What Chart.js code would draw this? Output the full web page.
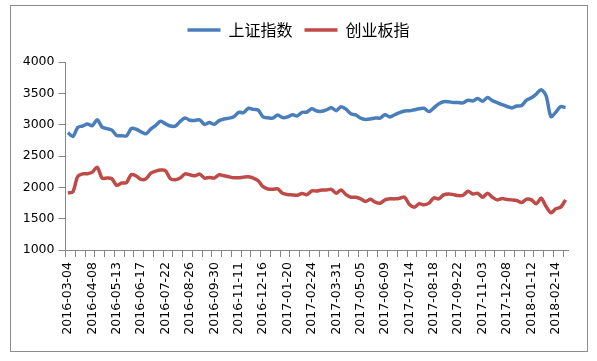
<!DOCTYPE html>
<html>
<head>
<meta charset="utf-8">
<script src="https://cdn.jsdelivr.net/npm/chart.js@4.4.0/dist/chart.umd.min.js"></script>
<style>
  html, body { margin: 0; padding: 0; background: #fff; }
  #wrap { position: relative; width: 597px; height: 361px; }
  #frame { position: absolute; left: 10px; top: 5px; width: 576px; height: 345px; border: 1px solid #8c8c8c; pointer-events: none; }
  canvas { position: absolute; left: 0; top: 0; }
</style>
</head>
<body>
<div id="wrap">
  <canvas id="chart" width="597" height="361"></canvas>
  <div id="frame"></div>
</div>
<script>
// Weekly closes, 2016-03-04 .. 2018-03-02
const dates = [
  '2016-03-04','2016-03-11','2016-03-18','2016-03-25','2016-04-01','2016-04-08','2016-04-15','2016-04-22','2016-04-29','2016-05-06',
  '2016-05-13','2016-05-20','2016-05-27','2016-06-03','2016-06-08','2016-06-17','2016-06-24','2016-07-01','2016-07-08','2016-07-15',
  '2016-07-22','2016-07-29','2016-08-05','2016-08-12','2016-08-19','2016-08-26','2016-09-02','2016-09-09','2016-09-14','2016-09-23',
  '2016-09-30','2016-10-14','2016-10-21','2016-10-28','2016-11-04','2016-11-11','2016-11-18','2016-11-25','2016-12-02','2016-12-09',
  '2016-12-16','2016-12-23','2016-12-30','2017-01-06','2017-01-13','2017-01-20','2017-01-26','2017-02-03','2017-02-10','2017-02-17',
  '2017-02-24','2017-03-03','2017-03-10','2017-03-17','2017-03-24','2017-03-31','2017-04-07','2017-04-14','2017-04-21','2017-04-28',
  '2017-05-05','2017-05-12','2017-05-19','2017-05-26','2017-06-02','2017-06-09','2017-06-16','2017-06-23','2017-06-30','2017-07-07',
  '2017-07-14','2017-07-21','2017-07-28','2017-08-04','2017-08-11','2017-08-18','2017-08-25','2017-09-01','2017-09-08','2017-09-15',
  '2017-09-22','2017-09-29','2017-10-13','2017-10-20','2017-10-27','2017-11-03','2017-11-10','2017-11-17','2017-11-24','2017-12-01',
  '2017-12-08','2017-12-15','2017-12-22','2017-12-29','2018-01-05','2018-01-12','2018-01-19','2018-01-26','2018-02-02','2018-02-09',
  '2018-02-14','2018-02-23','2018-03-02'
];

const shIndex = [
  2874, 2811, 2955, 2979, 3009, 2985, 3078, 2960, 2938, 2913,
  2828, 2825, 2822, 2938, 2927, 2885, 2854, 2932, 2989, 3054,
  3013, 2979, 2977, 3050, 3108, 3070, 3068, 3078, 3003, 3033,
  3005, 3064, 3091, 3105, 3125, 3197, 3193, 3262, 3244, 3233,
  3123, 3111, 3104, 3154, 3113, 3123, 3159, 3140, 3197, 3202,
  3253, 3218, 3213, 3237, 3269, 3223, 3287, 3247, 3173, 3155,
  3104, 3083, 3091, 3108, 3106, 3158, 3123, 3158, 3192, 3218,
  3222, 3238, 3254, 3262, 3209, 3269, 3332, 3367, 3365, 3354,
  3353, 3349, 3391, 3379, 3417, 3372, 3433, 3383, 3353, 3318,
  3290, 3267, 3297, 3307, 3392, 3429, 3488, 3558, 3462, 3129,
  3200, 3289, 3273
];

const cybIndex = [
  1911, 1926, 2173, 2215, 2216, 2242, 2321, 2148, 2148, 2137,
  2032, 2069, 2075, 2205, 2180, 2127, 2137, 2226, 2258, 2275,
  2265, 2137, 2122, 2148, 2215, 2200, 2184, 2211, 2148, 2158,
  2148, 2200, 2184, 2168, 2153, 2153, 2163, 2168, 2148, 2105,
  2011, 1974, 1968, 1974, 1905, 1884, 1879, 1874, 1900, 1884,
  1945, 1940, 1958, 1958, 1968, 1905, 1958, 1884, 1842, 1842,
  1816, 1774, 1810, 1763, 1747, 1800, 1816, 1816, 1826, 1842,
  1726, 1684, 1737, 1721, 1747, 1832, 1816, 1879, 1895, 1884,
  1868, 1874, 1937, 1895, 1905, 1842, 1905, 1842, 1800, 1821,
  1805, 1800, 1789, 1758, 1810, 1800, 1737, 1826, 1695, 1595,
  1658, 1684, 1800
];

const seriesNames = ['上证指数', '创业板指'];
const yTicks = [1000, 1500, 2000, 2500, 3000, 3500, 4000];

const axisGray = '#868686';
const tickFont = { family: "'DejaVu Sans', sans-serif", size: 12.5 };

new Chart(document.getElementById('chart'), {
  type: 'line',
  data: {
    labels: dates,
    datasets: [
      {
        label: seriesNames[0],
        data: shIndex,
        borderColor: '#4A7EBB',
        backgroundColor: '#4A7EBB',
        borderWidth: 3.5,
        pointRadius: 0,
        tension: 0.3,
        yAxisID: 'y'
      },
      {
        label: seriesNames[1],
        data: cybIndex,
        borderColor: '#BE4B48',
        backgroundColor: '#BE4B48',
        borderWidth: 3.5,
        pointRadius: 0,
        tension: 0.3,
        yAxisID: 'y'
      }
    ]
  },
  options: {
    responsive: false,
    animation: false,
    layout: { padding: { top: 10, left: 0, right: 0, bottom: 0 } },
    plugins: {
      tooltip: { enabled: false },
      legend: {
        position: 'top',
        labels: {
          usePointStyle: true,
          pointStyle: 'line',
          pointStyleWidth: 33,
          padding: 12,
          color: '#000',
          font: { family: "'Noto Sans CJK SC', sans-serif", size: 16 }
        }
      }
    },
    scales: {
      x: {
        type: 'category',
        offset: true,
        grid: {
          offset: true,
          drawOnChartArea: false,
          drawTicks: true,
          tickLength: 7,
          tickWidth: 1,
          tickColor: (ctx) => (ctx.index % 2 === 0 ? axisGray : 'rgba(0,0,0,0)')
        },
        border: { display: true, color: axisGray, width: 1 },
        ticks: {
          autoSkip: false,
          maxRotation: 90,
          minRotation: 90,
          padding: 5,
          color: '#000',
          font: tickFont,
          callback: (val, i) => (i % 5 === 0 ? dates[i] : '')
        },
        afterFit: (scale) => { scale.height = 111; }
      },
      // empty top axis only adds the gap under the legend
      xTop: {
        type: 'category',
        position: 'top',
        display: true,
        grid: { display: false, drawTicks: false },
        border: { display: false },
        ticks: { display: false },
        afterFit: (scale) => { scale.height = 14; }
      },
      y: {
        position: 'left',
        min: yTicks[0],
        max: yTicks[yTicks.length - 1],
        grid: {
          drawOnChartArea: false,
          drawTicks: true,
          tickLength: 7,
          tickColor: axisGray
        },
        border: { display: true, color: axisGray, width: 1 },
        ticks: {
          stepSize: yTicks[1] - yTicks[0],
          padding: 4,
          color: '#000',
          font: tickFont,
          callback: (v) => String(v)
        },
        afterFit: (scale) => { scale.width = 65.5; }
      },
      // empty right axis only reserves the right margin
      yRight: {
        position: 'right',
        display: true,
        grid: { display: false, drawTicks: false },
        border: { display: false },
        ticks: { display: false },
        afterFit: (scale) => { scale.width = 29; }
      }
    }
  }
});
</script>
</body>
</html>
